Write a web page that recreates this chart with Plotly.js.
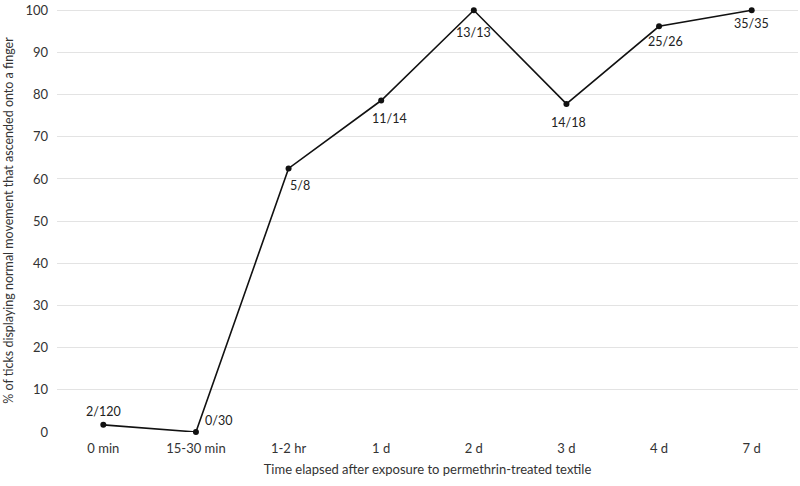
<!DOCTYPE html>
<html>
<head>
<meta charset="utf-8">
<script src="https://cdn.plot.ly/plotly-3.0.1.min.js"></script>
<style>
  html, body { margin: 0; padding: 0; background: #fff; }
  #chart { width: 800px; height: 486px; }
</style>
</head>
<body>
<div id="chart"></div>
<script>
// time points after exposure
let timeLabels = ['0 min', '15-30 min', '1-2 hr', '1 d', '2 d', '3 d', '4 d', '7 d'];
// ticks with normal movement / total
let counts = ['2/120', '0/30', '5/8', '11/14', '13/13', '14/18', '25/26', '35/35'];
let percentNormal = [1.7, 0, 62.5, 78.6, 100, 77.8, 96.2, 100];

// pixel offsets of each count label from its point
let labelDx = [0, 23, 11, 8, 0, 2, 6, 0];
let labelDy = [13, 12, -17, -18, -22, -19, -15, -13];

let graph = [{
  type: 'scatter',
  x: timeLabels,
  y: percentNormal,
  mode: 'lines+markers',
  line: { color: '#111', width: 1.6 },
  marker: { color: '#111', size: 6 },
  cliponaxis: false,
  hoverinfo: 'x+y'
}];

let notes = counts.map(function(c, i) {
  return {
    x: timeLabels[i],
    y: percentNormal[i],
    text: c,
    showarrow: false,
    xshift: labelDx[i],
    yshift: labelDy[i],
    font: { family: 'Lato, sans-serif', size: 12.5, color: '#222' }
  };
});

let layout = {
  width: 800,
  height: 486,
  margin: { l: 57, r: 2, t: 9, b: 54 },
  paper_bgcolor: '#fff',
  plot_bgcolor: '#fff',
  showlegend: false,
  font: { family: 'Lato, sans-serif', size: 13, color: '#333' },
  annotations: notes,
  xaxis: {
    type: 'category',
    range: [-0.5, 7.5],
    showgrid: false,
    showline: false,
    zeroline: false,
    ticks: '',
    ticklabelstandoff: 7,
    tickfont: { size: 13, color: '#333' },
    title: { text: 'Time elapsed after exposure to permethrin-treated textile', font: { size: 13, color: '#333' }, standoff: 9 }
  },
  yaxis: {
    range: [0, 100.3],
    tickvals: [0, 10, 20, 30, 40, 50, 60, 70, 80, 90, 100],
    showgrid: true,
    gridcolor: '#e3e3e3',
    gridwidth: 1,
    zeroline: false,
    showline: false,
    ticks: '',
    ticklabelstandoff: 8,
    ticklabeloverflow: 'allow',
    tickfont: { size: 13, color: '#333' },
    title: { text: '% of ticks displaying normal movement that ascended onto a finger', font: { size: 12.5, color: '#333' }, standoff: 9 }
  }
};

Plotly.newPlot('chart', graph, layout, { displayModeBar: false, responsive: false });
</script>
</body>
</html>
